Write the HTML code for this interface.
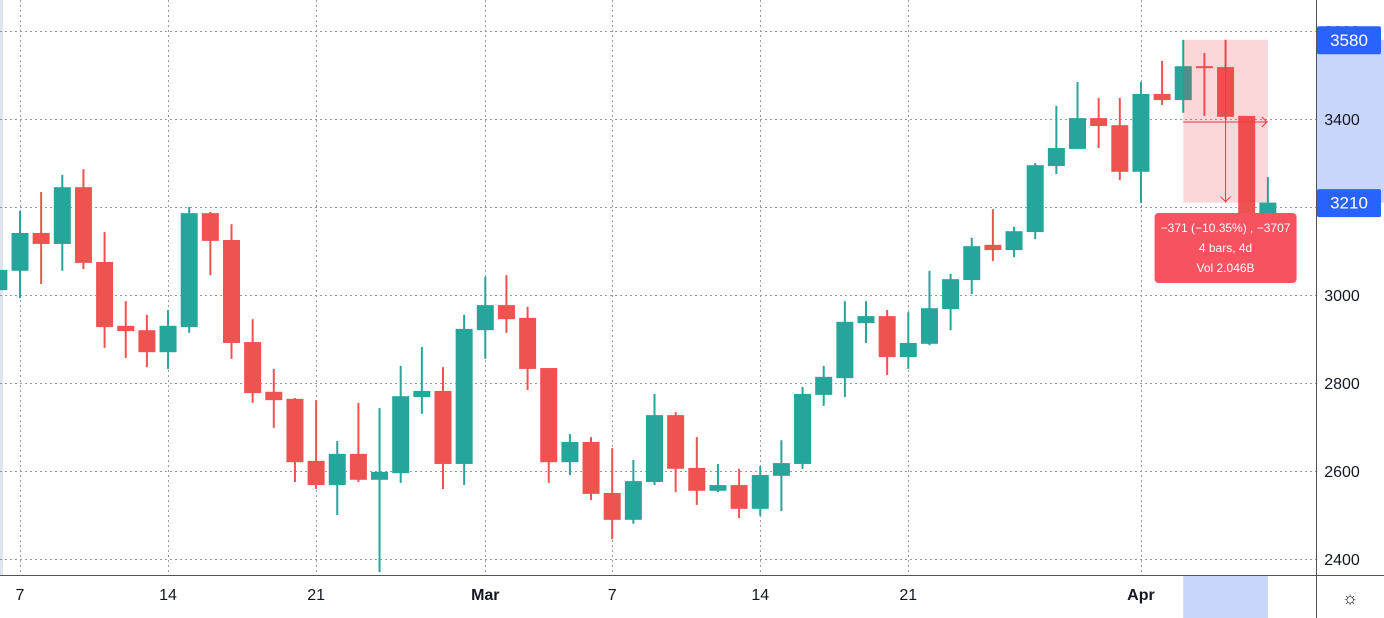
<!DOCTYPE html>
<html><head><meta charset="utf-8"><style>
html,body{margin:0;padding:0;background:#fff;overflow:hidden}
svg{display:block;font-family:"Liberation Sans",sans-serif}
</style></head><body>
<svg id="chart" width="1384" height="618" xmlns="http://www.w3.org/2000/svg">
<rect x="0" y="0" width="1384" height="618" fill="#fff"/>
<rect x="0" y="0" width="3" height="575" fill="#e0e3eb"/>
<g id="grid"></g>
<g id="candles"></g>
<g id="measure"></g>
<g id="axes"></g>
</svg>
<script>
const dates = ["Feb6","Feb7","Feb8","Feb9","Feb10","Feb11","Feb12","Feb13","Feb14","Feb15","Feb16","Feb17","Feb18","Feb19","Feb20","Feb21","Feb22","Feb23","Feb24","Feb25","Feb26","Feb27","Feb28","Mar1","Mar2","Mar3","Mar4","Mar5","Mar6","Mar7","Mar8","Mar9","Mar10","Mar11","Mar12","Mar13","Mar14","Mar15","Mar16","Mar17","Mar18","Mar19","Mar20","Mar21","Mar22","Mar23","Mar24","Mar25","Mar26","Mar27","Mar28","Mar29","Mar30","Mar31","Apr1","Apr2","Apr3","Apr4","Apr5","Apr6","Apr7"];
const opens  = [3011,3055,3141,3116,3245,3075,2930,2920,2870,2927,3186,3125,2893,2780,2764,2623,2568,2639,2580,2595,2768,2782,2616,2920,2977,2948,2834,2620,2666,2550,2489,2575,2727,2607,2555,2568,2514,2589,2616,2773,2811,2936,2952,2859,2889,2968,3034,3114,3102,3143,3293,3332,3402,3386,3280,3457,3443,3520,3518,3407,3186];
const highs  = [3061,3191,3234,3273,3286,3143,2986,2955,2966,3200,3189,3161,2945,2832,2766,2761,2668,2755,2743,2839,2882,2836,2955,3041,3045,2973,2834,2684,2677,2652,2625,2775,2734,2677,2616,2605,2611,2670,2791,2839,2986,2986,2966,2961,3055,3048,3130,3195,3155,3300,3430,3484,3448,3448,3484,3532,3580,3550,3580,3407,3268];
const lows   = [3007,2993,3025,3055,3059,2880,2857,2836,2832,2914,3045,2855,2755,2698,2575,2559,2500,2575,2370,2573,2730,2559,2568,2855,2914,2784,2573,2591,2534,2445,2480,2568,2552,2523,2552,2493,2498,2509,2605,2748,2768,2891,2818,2832,2886,2920,3002,3077,3086,3127,3275,3332,3334,3261,3209,3432,3414,3407,3400,3180,3175];
const closes = [3057,3141,3116,3245,3073,2927,2918,2870,2930,3186,3123,2891,2777,2761,2620,2568,2639,2580,2598,2770,2782,2616,2923,2977,2945,2832,2620,2666,2548,2489,2577,2727,2605,2555,2568,2514,2591,2618,2775,2814,2939,2952,2859,2891,2970,3036,3111,3102,3145,3295,3334,3402,3384,3280,3457,3443,3520,3516,3405,3186,3210];
const priceTicks = [2400,2600,2800,3000,3200,3400,3600];
const timeTicks = [1,8,15,23,29,36,43,54];
const timeLabels = ["7","14","21","Mar","7","14","21","Apr"];
const measureFrom = 3580, measureTo = 3210, measureStart = 56, measureEnd = 60;
const tooltipLines = ["−371 (−10.35%) , −3707","4 bars, 4d","Vol 2.046B"];

const NS="http://www.w3.org/2000/svg";
const PLOT_R=1316, PLOT_B=575;
function yScale(p){return 119+(3400-p)*0.44;}
function xScale(i){return -1.15+i*21.15;}
function mk(tag,attrs,parent){const e=document.createElementNS(NS,tag);for(const k in attrs)e.setAttribute(k,attrs[k]);parent.appendChild(e);return e;}
const grid=document.getElementById('grid'),cg=document.getElementById('candles'),ax=document.getElementById('axes'),mg=document.getElementById('measure');

priceTicks.forEach(p=>{const y=Math.round(yScale(p))+0.5;
 const l=mk('line',{x1:0,x2:PLOT_R,y1:y,y2:y,stroke:'#999',"stroke-dasharray":'2,3',"stroke-width":1},grid);
 
 });
timeTicks.forEach(i=>{const x=Math.round(xScale(i))+0.5;
 const l=mk('line',{x1:x,x2:x,y1:0,y2:PLOT_B,stroke:'#999',"stroke-dasharray":'2,3',"stroke-width":1},grid);
 
 });

dates.forEach((d,i)=>{
 const up=closes[i]>=opens[i];const col=up?'#26a69a':'#ef5350';const x=xScale(i);
 const g=mk('g',{},cg);
 
 
 mk('rect',{x:x-1,y:yScale(highs[i]),width:2,height:Math.max(1,yScale(lows[i])-yScale(highs[i])),fill:col},g);
 const t=yScale(Math.max(opens[i],closes[i])),b=yScale(Math.min(opens[i],closes[i]));
 mk('rect',{x:x-8.5,y:t,width:17,height:Math.max(2,b-t),fill:col},g);
});

// measure tool
const mx1=xScale(measureStart),mx2=xScale(measureEnd),my1=yScale(measureFrom),my2=yScale(measureTo),mcx=(mx1+mx2)/2;
const mr=mk('rect',{x:mx1,y:my1,width:mx2-mx1,height:my2-my1,fill:'rgba(242,54,69,0.2)'},mg);


mk('line',{x1:mcx,x2:mcx,y1:my1,y2:my2,stroke:'#f23645',"stroke-width":1},mg);
mk('polyline',{points:`${mcx-5},${my2-6} ${mcx},${my2-1} ${mcx+5},${my2-6}`,fill:'none',stroke:'#f23645'},mg);
const hy=yScale(3400)+3;
mk('line',{x1:mx1,x2:mx2,y1:hy,y2:hy,stroke:'#f23645',"stroke-width":1},mg);
mk('polyline',{points:`${mx2-6},${hy-5} ${mx2-1},${hy} ${mx2-6},${hy+5}`,fill:'none',stroke:'#f23645'},mg);
const tip=mk('g',{},mg);


mk('rect',{x:mcx-71,y:213,width:142,height:70,rx:4,fill:'#f7525f'},tip);
tooltipLines.forEach((s,k)=>{
 const t=mk('text',{x:mcx,y:232+k*20,"text-anchor":'middle',"font-size":12,fill:'#fff'},tip);t.textContent=s;});

// axes
mk('rect',{x:PLOT_R,y:0,width:68,height:618,fill:'#fff'},ax);
mk('rect',{x:PLOT_R+1,y:my1,width:67,height:my2-my1,fill:'#c9d6fc'},ax);
mk('rect',{x:mx1,y:PLOT_B+1,width:mx2-mx1,height:42,fill:'#c9d6fc'},ax);
mk('line',{x1:PLOT_R+0.5,x2:PLOT_R+0.5,y1:0,y2:618,stroke:'#50535e'},ax);
mk('line',{x1:0,x2:1384,y1:PLOT_B+0.5,y2:PLOT_B+0.5,stroke:'#50535e'},ax);
priceTicks.forEach(p=>{const t=mk('text',{x:1342,y:yScale(p)+6,"text-anchor":'middle',"font-size":16,fill:'#131722'},ax);
 
 
 t.textContent=p;});
[[measureFrom,'price-label-3580'],[measureTo,'price-label-3210']].forEach(([p,n])=>{
 const g=mk('g',{},ax);
 
 
 const y=yScale(p);
 mk('rect',{x:PLOT_R+1,y:y-13.5,width:64,height:28,rx:2,fill:'#2962ff'},g);
 const t=mk('text',{x:1349,y:y+6,"text-anchor":'middle',"font-size":17,fill:'#fff'},g);t.textContent=p;});
timeTicks.forEach((i,k)=>{const lab=timeLabels[k];
 const t=mk('text',{x:xScale(i),y:600,"text-anchor":'middle',"font-size":16,fill:'#131722',"font-weight":(lab==='Mar'||lab==='Apr')?'bold':'normal'},ax);
 
 
 t.textContent=lab;});
const gear=mk('text',{x:1350,y:604,"text-anchor":'middle',"font-size":18,fill:'#131722'},ax);


gear.textContent='☼';
</script>
</body></html>
